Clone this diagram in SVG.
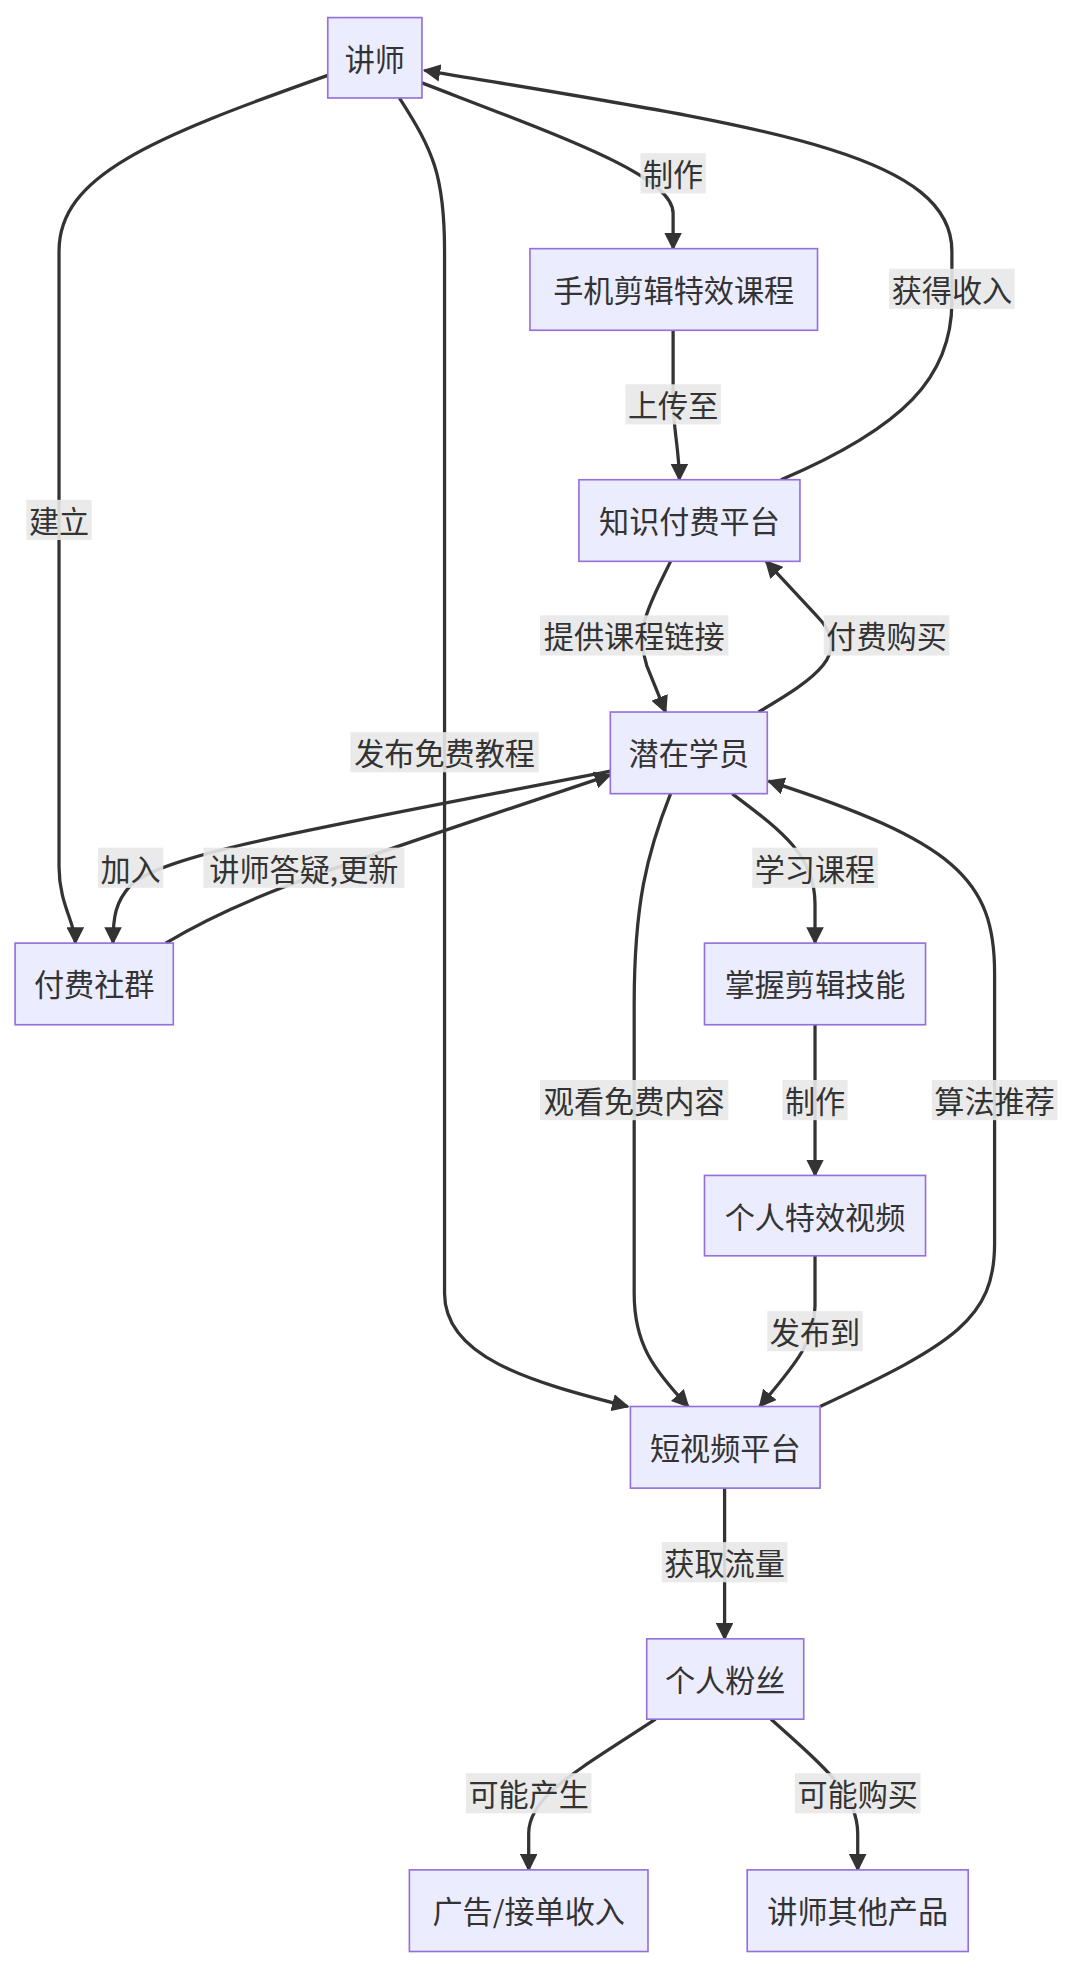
<svg xmlns="http://www.w3.org/2000/svg" width="1080" height="1976" viewBox="0 0 1080 1976">
<style>
.n rect{fill:#ECECFF;stroke:#9370DB;stroke-width:1.3}
text{font-family:"Noto Sans CJK SC","Liberation Sans",sans-serif;font-size:24px;fill:#333;text-anchor:middle;dominant-baseline:central}
.e path{fill:none;stroke:#333;stroke-width:2.6}
.l rect{fill:#e8e8e8;opacity:0.9}
</style>
<defs><marker id="a" markerUnits="userSpaceOnUse" viewBox="0 0 10 10" refX="9" refY="5" markerWidth="14" markerHeight="14" orient="auto"><path d="M0,0L10,5L0,10z" fill="#333"/></marker></defs>
<rect width="1080" height="1976" fill="#fff"/>
<g transform="scale(1.2558)">
<g class="e" id="edges">
<path marker-end="url(#a)" d="M261,60 C120,110 47,140 47,200 L47,690 C47,720 60,735 60,751"/>
<path marker-end="url(#a)" d="M318,78 C345,120 354,140 354,200 L354,1030 C354,1080 420,1100 500,1120"/>
<path marker-end="url(#a)" d="M336,66 C450,110 536,140 536,170 L536,198"/>
<path marker-end="url(#a)" d="M622,382 C720,340 758,300 758,240 L758,200 C758,120 600,100 338,56"/>
<path marker-end="url(#a)" d="M536,263 L536,320 C536,340 541,360 541,382"/>
<path marker-end="url(#a)" d="M534,447 C518,480 505,500 515,530 L530,567"/>
<path marker-end="url(#a)" d="M604,567 C650,540 680,520 650,490 L610,447"/>
<path marker-end="url(#a)" d="M486,614 C250,660 130,680 104,705 C92,718 90,730 90,751"/>
<path marker-end="url(#a)" d="M132,751 C200,710 270,690 486,617"/>
<path marker-end="url(#a)" d="M583,632 C620,660 649,680 649,720 L649,751"/>
<path marker-end="url(#a)" d="M534,632 C515,680 505,720 505,800 L505,1030 C505,1070 520,1090 548,1120"/>
<path marker-end="url(#a)" d="M653,1120 C760,1070 792,1050 792,990 L792,775 C792,700 760,670 612,622"/>
<path marker-end="url(#a)" d="M649,816 L649,936"/>
<path marker-end="url(#a)" d="M649,1000 L649,1040 C649,1070 630,1090 605,1120"/>
<path marker-end="url(#a)" d="M577,1185 L577,1305"/>
<path marker-end="url(#a)" d="M522,1369 C460,1410 421,1430 421,1460 L421,1489"/>
<path marker-end="url(#a)" d="M614,1369 C660,1410 683,1430 683,1460 L683,1489"/>
</g>
<g class="l" id="labels">
<rect x="510" y="122" width="52" height="32"/><text x="536" y="138">制作</text>
<rect x="708" y="214" width="100" height="32"/><text x="758" y="230">获得收入</text>
<rect x="498" y="306" width="76" height="32"/><text x="536" y="322">上传至</text>
<rect x="21" y="398" width="52" height="32"/><text x="47" y="414">建立</text>
<rect x="430" y="490" width="150" height="32"/><text x="505" y="506">提供课程链接</text>
<rect x="656" y="490" width="100" height="32"/><text x="706" y="506">付费购买</text>
<rect x="279" y="583" width="150" height="32"/><text x="354" y="599">发布免费教程</text>
<rect x="78" y="675" width="52" height="32"/><text x="104" y="691">加入</text>
<rect x="162" y="675" width="160" height="32"/><text x="242" y="691">讲师答疑,更新</text>
<rect x="599" y="675" width="100" height="32"/><text x="649" y="691">学习课程</text>
<rect x="430" y="860" width="150" height="32"/><text x="505" y="876">观看免费内容</text>
<rect x="623" y="860" width="52" height="32"/><text x="649" y="876">制作</text>
<rect x="742" y="860" width="100" height="32"/><text x="792" y="876">算法推荐</text>
<rect x="611" y="1044" width="76" height="32"/><text x="649" y="1060">发布到</text>
<rect x="527" y="1228" width="100" height="32"/><text x="577" y="1244">获取流量</text>
<rect x="371" y="1412" width="100" height="32"/><text x="421" y="1428">可能产生</text>
<rect x="633" y="1412" width="100" height="32"/><text x="683" y="1428">可能购买</text>
</g>
<g class="n" id="n1"><rect x="261" y="14" width="75" height="64"/><text x="298.5" y="46">讲师</text></g>
<g class="n" id="n2"><rect x="422" y="198" width="229" height="65"/><text x="536.5" y="230">手机剪辑特效课程</text></g>
<g class="n" id="n3"><rect x="461" y="382" width="176" height="65"/><text x="549" y="414">知识付费平台</text></g>
<g class="n" id="n4"><rect x="486" y="567" width="125" height="65"/><text x="548.5" y="599">潜在学员</text></g>
<g class="n" id="n5"><rect x="12" y="751" width="126" height="65"/><text x="75" y="783">付费社群</text></g>
<g class="n" id="n6"><rect x="561" y="751" width="176" height="65"/><text x="649" y="783">掌握剪辑技能</text></g>
<g class="n" id="n7"><rect x="561" y="936" width="176" height="64"/><text x="649" y="968">个人特效视频</text></g>
<g class="n" id="n8"><rect x="502" y="1120" width="151" height="65"/><text x="577.5" y="1152">短视频平台</text></g>
<g class="n" id="n9"><rect x="515" y="1305" width="125" height="64"/><text x="577.5" y="1337">个人粉丝</text></g>
<g class="n" id="n10"><rect x="326" y="1489" width="190" height="65"/><text x="421" y="1521">广告/接单收入</text></g>
<g class="n" id="n11"><rect x="595" y="1489" width="176" height="65"/><text x="683" y="1521">讲师其他产品</text></g>
</g>
</svg>
